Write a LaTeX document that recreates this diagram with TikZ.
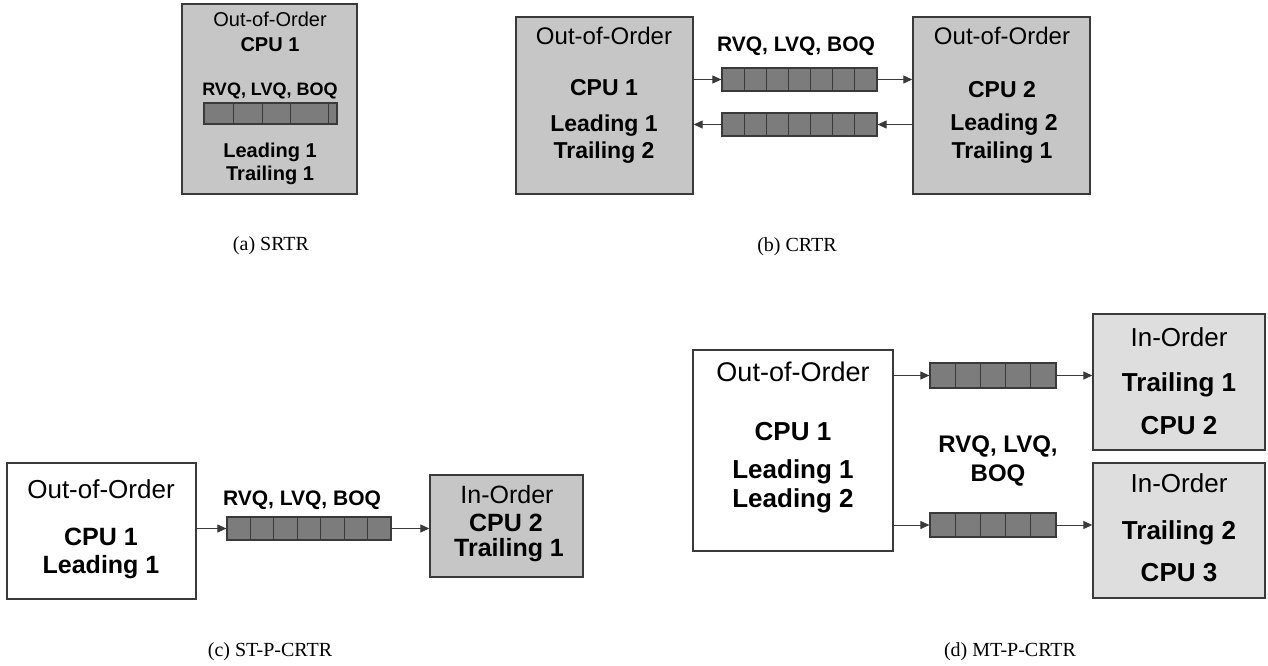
\documentclass[tikz,border=0pt]{standalone}
\usepackage{fontspec}
\setmainfont{Liberation Serif}
\newfontfamily\arialf{Liberation Sans}
\usetikzlibrary{arrows.meta,calc}
\definecolor{boxgray}{HTML}{C6C6C6}
\definecolor{lightgray2}{HTML}{DEDEDE}
\definecolor{qgray}{HTML}{7C7C7C}
\definecolor{edge}{HTML}{3A3A3A}
\tikzset{
  blk/.style={draw=edge,line width=1.4pt,inner sep=0pt},
  gblk/.style={blk,fill=boxgray},
  lblk/.style={blk,fill=lightgray2},
  wblk/.style={blk,fill=white},
  queue/.style={draw=edge,line width=1.2pt,fill=qgray,inner sep=0pt},
  qline/.style={draw=edge,line width=1pt},
  arr/.style={draw=edge,line width=1pt,-{Triangle[length=9pt,width=8pt]}},
  rg/.style={font=\arialf\fontsize{#1}{#1}\selectfont,inner sep=0pt},
  bd/.style={font=\arialf\bfseries\fontsize{#1}{#1}\selectfont,inner sep=0pt},
  captxt/.style={font=\fontsize{20}{20}\selectfont,inner sep=0pt}
}
% name, left, top, right, bottom, style
\newcommand{\rbox}[6]{%
  \pgfmathsetmacro\bw{#4-#2}\pgfmathsetmacro\bh{#5-#3}%
  \node[#6,minimum width=\bw pt,minimum height=\bh pt] (#1) at ({(#2+#4)/2},{(#3+#5)/2}) {};}
% name, left, top, right, bottom, cells
\newcommand{\qbox}[6]{%
  \rbox{#1}{#2}{#3}{#4}{#5}{queue}%
  \pgfmathsetmacro\qn{#6-1}%
  \foreach \k in {1,...,\qn}{%
    \pgfmathsetmacro\dx{#2+\k*(#4-#2)/#6}%
    \draw[qline] (\dx,#3) -- (\dx,#5);}}
\begin{document}
\begin{tikzpicture}[x=1pt,y=-1pt]
\useasboundingbox[fill=white] (0,0) rectangle (1268,666);

% ---------------- (a) SRTR ----------------
\rbox{a}{182}{4}{357}{194}{gblk}
\node[rg=20] (aoo) at (270,19) {Out-of-Order};
\node[bd=20] (acpu) at (270,45) {CPU 1};
\node[bd=18] (albl) at (270,91) {RVQ, LVQ, BOQ};
\rbox{aq}{204}{103}{337}{124}{queue}
\foreach \dx in {233,262,290,328}{\draw[qline] (\dx,103) -- (\dx,124);}
\node[bd=20] (alead) at (270,152) {Leading 1};
\node[bd=20] (atrail) at (270,175) {Trailing 1};
\node[captxt] (acap) at (271,246) {(a) SRTR};

% ---------------- (b) CRTR ----------------
\rbox{bl}{516}{17}{693}{194}{gblk}
\rbox{br}{913}{17}{1090}{194}{gblk}
\node[rg=24] (bloo) at (604,36) {Out-of-Order};
\node[bd=23] (blcpu) at (604,88) {CPU 1};
\node[bd=23] (bllead) at (604,126) {Leading 1};
\node[bd=23] (bltrail) at (604,153) {Trailing 2};
\node[rg=24] (broo) at (1002,36) {Out-of-Order};
\node[bd=23] (brcpu) at (1002,90) {CPU 2};
\node[bd=23] (brlead) at (1004,125) {Leading 2};
\node[bd=23] (brtrail) at (1002,153) {Trailing 1};
\node[bd=21] (blbl) at (796,46) {RVQ, LVQ, BOQ};
\qbox{bq1}{722}{68}{877}{91}{7}
\qbox{bq2}{722}{113}{877}{136}{7}
\draw[arr] (bl.east |- bq1.west) -- (bq1.west);
\draw[arr] (bq1.east) -- (br.west |- bq1.east);
\draw[arr] (br.west |- bq2.east) -- (bq2.east);
\draw[arr] (bq2.west) -- (bl.east |- bq2.west);
\node[captxt] (bcap) at (797,247) {(b) CRTR};

% ---------------- (c) ST-P-CRTR ----------------
\rbox{cl}{7}{463}{196}{599}{wblk}
\node[rg=26] (cloo) at (101,489) {Out-of-Order};
\node[bd=25] (clcpu) at (101,537) {CPU 1};
\node[bd=25] (cllead) at (101,567) {Leading 1};
\node[bd=21] (clbl) at (302,500) {RVQ, LVQ, BOQ};
\qbox{cq}{227}{517}{391}{540}{7}
\rbox{cr}{430}{475}{583}{577}{gblk}
\node[rg=25] (crio) at (507,495) {In-Order};
\node[bd=25] (crcpu) at (506,523) {CPU 2};
\node[bd=25] (crtrail) at (509,550) {Trailing 1};
\draw[arr] (cl.east |- cq.west) -- (cq.west);
\draw[arr] (cq.east) -- (cr.west |- cq.east);
\node[captxt] (ccap) at (270,652) {(c) ST-P-CRTR};

% ---------------- (d) MT-P-CRTR ----------------
\rbox{dl}{693}{350}{893}{551}{wblk}
\node[rg=27] (dloo) at (793,372) {Out-of-Order};
\node[bd=26] (dlcpu) at (793,432) {CPU 1};
\node[bd=26] (dllead1) at (793,472) {Leading 1};
\node[bd=26] (dllead2) at (793,501) {Leading 2};
\node[bd=24] (dlbl1) at (998,446) {RVQ, LVQ,};
\node[bd=24] (dlbl2) at (998,475) {BOQ};
\qbox{dq1}{930}{363}{1056}{388}{5}
\qbox{dq2}{930}{513}{1056}{537}{5}
\rbox{dr1}{1093}{314}{1265}{450}{lblk}
\rbox{dr2}{1093}{463}{1265}{598}{lblk}
\node[rg=26] (dr1io) at (1179,337) {In-Order};
\node[bd=26] (dr1trail) at (1179,385) {Trailing 1};
\node[bd=26] (dr1cpu) at (1179,426) {CPU 2};
\node[rg=26] (dr2io) at (1179,483) {In-Order};
\node[bd=26] (dr2trail) at (1179,533) {Trailing 2};
\node[bd=26] (dr2cpu) at (1179,573) {CPU 3};
\draw[arr] (dl.east |- dq1.west) -- (dq1.west);
\draw[arr] (dq1.east) -- (dr1.west |- dq1.east);
\draw[arr] (dl.east |- dq2.west) -- (dq2.west);
\draw[arr] (dq2.east) -- (dr2.west |- dq2.east);
\node[captxt] (dcap) at (1010,652) {(d) MT-P-CRTR};
\end{tikzpicture}
\end{document}
